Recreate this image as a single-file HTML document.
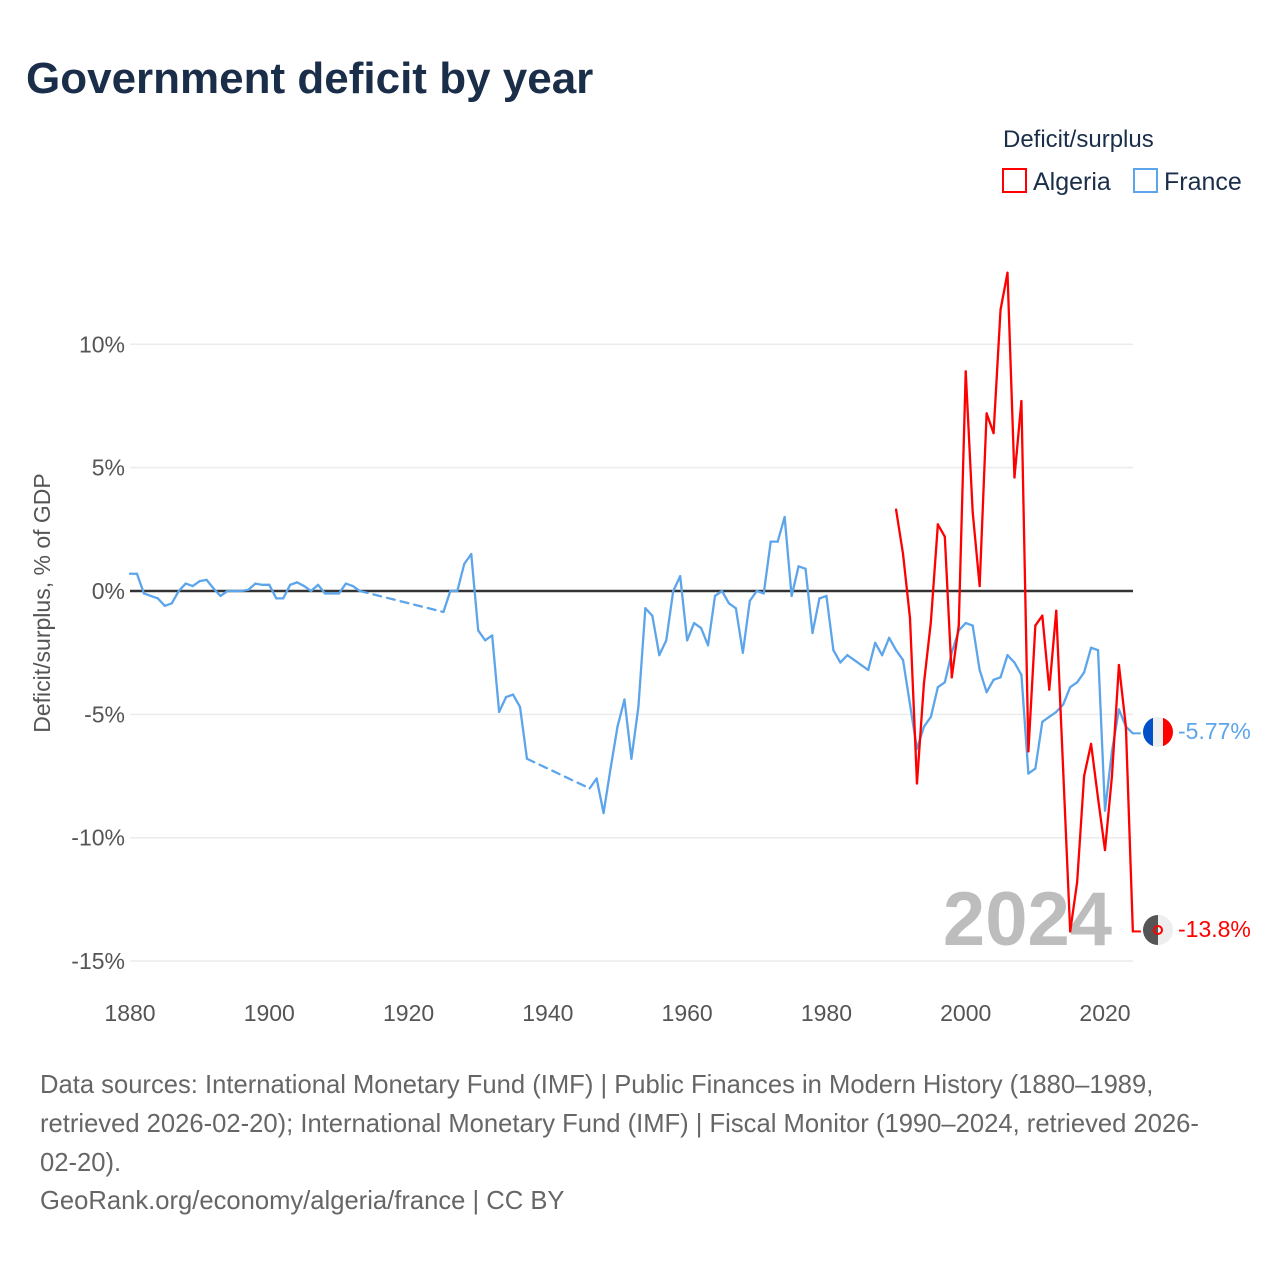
<!DOCTYPE html>
<html><head><meta charset="utf-8"><style>
html,body{margin:0;padding:0;background:#fff;width:1280px;height:1280px;overflow:hidden;font-family:"Liberation Sans",sans-serif}
svg text{font-family:"Liberation Sans",sans-serif}
</style></head><body>
<svg id="chart" width="1280" height="1280" xmlns="http://www.w3.org/2000/svg">
<text x="26" y="93" font-size="44" font-weight="bold" fill="#1a2e4a">Government deficit by year</text>
<text x="1003" y="147" font-size="24" fill="#1a2e4a">Deficit/surplus</text>
<g><rect x="1003" y="169" width="23" height="23" fill="none" stroke="#ff0000" stroke-width="2"/><text x="1033" y="190" font-size="25" fill="#1a2e4a">Algeria</text></g>
<g><rect x="1134" y="169" width="23" height="23" fill="none" stroke="#5da5ea" stroke-width="2"/><text x="1164" y="190" font-size="25" fill="#1a2e4a">France</text></g>
<text transform="translate(50,603) rotate(-90)" text-anchor="middle" font-size="23" fill="#555">Deficit/surplus, % of GDP</text>
<g id="grid"></g>
<text x="1112" y="945" text-anchor="end" font-size="76" font-weight="bold" fill="#bdbdbd">2024</text>
<g id="series"></g>
<g>
<clipPath id="cf"><circle cx="1158" cy="732" r="15"/></clipPath>
<g clip-path="url(#cf)"><rect x="1143" y="717" width="10" height="30" fill="#0050c8"/><rect x="1153" y="717" width="10" height="30" fill="#eee"/><rect x="1163" y="717" width="10" height="30" fill="#ff0000"/></g>
<text x="1178" y="739" font-size="23" fill="#5da5ea">-5.77%</text></g>
<g>
<clipPath id="ca"><circle cx="1158" cy="930" r="15"/></clipPath>
<g clip-path="url(#ca)"><rect x="1143" y="915" width="15" height="30" fill="#555"/><rect x="1158" y="915" width="15" height="30" fill="#eee"/></g>
<circle cx="1158" cy="930" r="4" fill="none" stroke="#f00" stroke-width="2"/>
<text x="1178" y="937" font-size="23" fill="#ff0000">-13.8%</text></g>
<g font-size="25.6" fill="#666">
<text x="40" y="1093">Data sources: International Monetary Fund (IMF) | Public Finances in Modern History (1880–1989,</text>
<text x="40" y="1132">retrieved 2026-02-20); International Monetary Fund (IMF) | Fiscal Monitor (1990–2024, retrieved 2026-</text>
<text x="40" y="1171">02-20).</text>
<text x="40" y="1209">GeoRank.org/economy/algeria/france | CC BY</text>
</g>
</svg>
<script>
const yTicks=[10,5,0,-5,-10,-15];
const yTickLabels=["10%","5%","0%","-5%","-10%","-15%"];
const xTicks=[1880,1900,1920,1940,1960,1980,2000,2020];
const franceYears=[1880,1881,1882,1883,1884,1885,1886,1887,1888,1889,1890,1891,1892,1893,1894,1895,1896,1897,1898,1899,1900,1901,1902,1903,1904,1905,1906,1907,1908,1909,1910,1911,1912,1913,1925,1926,1927,1928,1929,1930,1931,1932,1933,1934,1935,1936,1937,1946,1947,1948,1949,1950,1951,1952,1953,1954,1955,1956,1957,1958,1959,1960,1961,1962,1963,1964,1965,1966,1967,1968,1969,1970,1971,1972,1973,1974,1975,1976,1977,1978,1979,1980,1981,1982,1983,1984,1985,1986,1987,1988,1989,1990,1991,1992,1993,1994,1995,1996,1997,1998,1999,2000,2001,2002,2003,2004,2005,2006,2007,2008,2009,2010,2011,2012,2013,2014,2015,2016,2017,2018,2019,2020,2021,2022,2023,2024];
const franceValues=[0.7,0.7,-0.1,-0.2,-0.3,-0.6,-0.5,0,0.3,0.2,0.4,0.45,0.1,-0.2,0,0,0,0.05,0.3,0.25,0.25,-0.3,-0.3,0.25,0.35,0.2,0,0.25,-0.1,-0.1,-0.1,0.3,0.2,0.0,-0.85,0,0,1.1,1.5,-1.6,-2.0,-1.8,-4.9,-4.3,-4.2,-4.7,-6.8,-8.0,-7.6,-9.0,-7.2,-5.5,-4.4,-6.8,-4.7,-0.7,-1.0,-2.6,-2.0,0,0.6,-2.0,-1.3,-1.5,-2.2,-0.2,0,-0.5,-0.7,-2.5,-0.4,0,-0.1,2.0,2.0,3.0,-0.2,1.0,0.9,-1.7,-0.3,-0.2,-2.4,-2.9,-2.6,-2.8,-3.0,-3.2,-2.1,-2.6,-1.9,-2.4,-2.8,-4.6,-6.4,-5.5,-5.1,-3.9,-3.7,-2.5,-1.6,-1.3,-1.4,-3.2,-4.1,-3.6,-3.5,-2.6,-2.9,-3.4,-7.4,-7.2,-5.3,-5.1,-4.9,-4.6,-3.9,-3.7,-3.3,-2.3,-2.4,-8.9,-6.5,-4.8,-5.5,-5.77];
const algeriaYears=[1990,1991,1992,1993,1994,1995,1996,1997,1998,1999,2000,2001,2002,2003,2004,2005,2006,2007,2008,2009,2010,2011,2012,2013,2014,2015,2016,2017,2018,2019,2020,2021,2022,2023,2024];
const algeriaValues=[3.3,1.5,-1.1,-7.8,-3.75,-1.25,2.7,2.2,-3.5,-1.4,8.9,3.2,0.2,7.2,6.4,11.4,12.9,4.6,7.7,-6.5,-1.4,-1.0,-4.0,-0.8,-7.3,-13.8,-11.8,-7.5,-6.2,-8.4,-10.5,-7.5,-3.0,-5.5,-13.8];
const NS="http://www.w3.org/2000/svg";
const X=y=>130+(y-1880)*(975/140);
const Y=v=>591-v*24.67;
const grid=document.getElementById('grid'),ser=document.getElementById('series');
function mk(tag,at,parent){const e=document.createElementNS(NS,tag);for(const k in at)e.setAttribute(k,at[k]);parent.appendChild(e);return e;}
yTicks.forEach((t,i)=>{
 const l=mk('line',{x1:130,x2:1133,y1:Y(t),y2:Y(t),stroke:t===0?'#333':'#ebebeb','stroke-width':t===0?2.5:1.5},grid);
 
 
 const tx=mk('text',{x:125,y:Y(t)+8,'text-anchor':'end','font-size':23,fill:'#555'},grid);
 tx.textContent=yTickLabels[i];
 
 
});
xTicks.forEach(t=>{
 const tx=mk('text',{x:X(t),y:1021,'text-anchor':'middle','font-size':23,fill:'#555'},grid);
 tx.textContent=t;
 
 
});
function drawSeries(years,vals,color,name){
 for(let i=1;i<years.length;i++){
  const gap=years[i]-years[i-1]>1;
  const l=mk('line',{x1:X(years[i-1]),y1:Y(vals[i-1]),x2:X(years[i]),y2:Y(vals[i]),stroke:color,'stroke-width':2.3,'stroke-linecap':'round'},ser);
  if(gap)l.setAttribute('stroke-dasharray','8 6');
  
  
 }
 const last=years.length-1;
 const e=mk('line',{x1:X(years[last]),y1:Y(vals[last]),x2:X(years[last])+8,y2:Y(vals[last]),stroke:color,'stroke-width':2},ser);
 
 
}
drawSeries(franceYears,franceValues,'#5da5ea','france');
drawSeries(algeriaYears,algeriaValues,'#ff0000','algeria');
</script>
</body></html>
